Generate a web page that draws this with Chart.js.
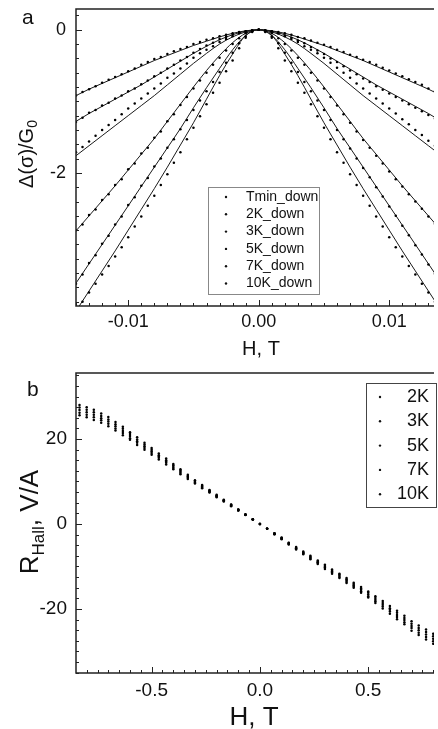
<!DOCTYPE html>
<html><head><meta charset="utf-8">
<script src="https://cdn.jsdelivr.net/npm/chart.js@4.4.1/dist/chart.umd.min.js"></script>
<style>
html,body{margin:0;padding:0;background:#fff;overflow:hidden}
#wa{position:absolute;left:0;top:0;width:438px;height:360px}
#wb{position:absolute;left:0;top:360px;width:438px;height:369px}
</style></head><body>
<div id="wa"><canvas id="ca" width="438" height="360"></canvas></div>
<div id="wb"><canvas id="cb" width="438" height="369"></canvas></div>
<script>
// ---------- Panel a data ----------
const fieldA = [-0.014,-0.0135,-0.013,-0.0125,-0.012,-0.0115,-0.011,-0.0105,-0.01,-0.0095,-0.009,-0.0085,-0.008,-0.0075,-0.007,-0.0065,-0.006,-0.0055,-0.005,-0.0045,-0.004,-0.0035,-0.003,-0.0025,-0.002,-0.0015,-0.001,-0.0005,0,0.0005,0.001,0.0015,0.002,0.0025,0.003,0.0035,0.004,0.0045,0.005,0.0055,0.006,0.0065,0.007,0.0075,0.008,0.0085,0.009,0.0095,0.01,0.0105,0.011,0.0115,0.012,0.0125,0.013,0.0135];
const seriesA = ["Tmin_down","2K_down","3K_down","5K_down","7K_down","10K_down"];
const dotTmin = [-3.93,-3.80,-3.67,-3.55,-3.42,-3.30,-3.17,-3.04,-2.90,-2.75,-2.61,-2.46,-2.32,-2.17,-2.02,-1.86,-1.71,-1.53,-1.37,-1.21,-1.04,-0.88,-0.74,-0.58,-0.43,-0.26,-0.11,-0.03,0,-0.03,-0.11,-0.26,-0.43,-0.58,-0.74,-0.88,-1.04,-1.21,-1.37,-1.53,-1.71,-1.86,-2.02,-2.17,-2.32,-2.46,-2.61,-2.75,-2.90,-3.04,-3.17,-3.30,-3.42,-3.55,-3.67,-3.80];
const dot2K = [-3.55,-3.42,-3.26,-3.15,-2.99,-2.88,-2.72,-2.61,-2.45,-2.34,-2.18,-2.07,-1.91,-1.80,-1.65,-1.53,-1.39,-1.26,-1.12,-0.99,-0.86,-0.73,-0.59,-0.46,-0.32,-0.19,-0.09,-0.02,0,-0.02,-0.09,-0.19,-0.32,-0.46,-0.59,-0.73,-0.86,-0.99,-1.12,-1.26,-1.40,-1.53,-1.66,-1.80,-1.93,-2.06,-2.20,-2.33,-2.47,-2.60,-2.74,-2.87,-3.01,-3.14,-3.28,-3.41];
const dot3K = [-2.80,-2.72,-2.59,-2.51,-2.38,-2.30,-2.17,-2.09,-1.95,-1.87,-1.73,-1.65,-1.51,-1.42,-1.28,-1.18,-1.05,-0.94,-0.82,-0.71,-0.60,-0.49,-0.39,-0.29,-0.20,-0.12,-0.05,-0.01,0,-0.01,-0.05,-0.12,-0.20,-0.29,-0.39,-0.49,-0.60,-0.71,-0.82,-0.94,-1.06,-1.18,-1.30,-1.42,-1.54,-1.65,-1.76,-1.87,-1.98,-2.09,-2.19,-2.30,-2.40,-2.50,-2.61,-2.71];
const dot5K = [-1.71,-1.64,-1.56,-1.48,-1.40,-1.33,-1.26,-1.18,-1.10,-1.03,-0.96,-0.89,-0.82,-0.75,-0.67,-0.61,-0.54,-0.47,-0.39,-0.33,-0.28,-0.23,-0.17,-0.13,-0.09,-0.05,-0.03,-0.01,0,-0.01,-0.03,-0.05,-0.09,-0.13,-0.17,-0.23,-0.28,-0.33,-0.39,-0.46,-0.53,-0.60,-0.67,-0.75,-0.82,-0.89,-0.96,-1.03,-1.10,-1.17,-1.25,-1.32,-1.40,-1.47,-1.55,-1.62];
const dot7K = [-1.29,-1.23,-1.16,-1.12,-1.06,-1.02,-0.96,-0.92,-0.86,-0.82,-0.76,-0.71,-0.65,-0.60,-0.54,-0.49,-0.43,-0.38,-0.32,-0.27,-0.22,-0.18,-0.13,-0.10,-0.07,-0.04,-0.02,-0.01,0,-0.01,-0.02,-0.05,-0.08,-0.11,-0.15,-0.19,-0.24,-0.29,-0.34,-0.40,-0.45,-0.51,-0.57,-0.62,-0.68,-0.73,-0.79,-0.84,-0.89,-0.94,-0.99,-1.04,-1.09,-1.14,-1.19,-1.24];
const dot10K = [-0.92,-0.87,-0.83,-0.79,-0.74,-0.70,-0.66,-0.62,-0.58,-0.54,-0.49,-0.45,-0.41,-0.38,-0.34,-0.30,-0.27,-0.24,-0.20,-0.17,-0.14,-0.12,-0.09,-0.07,-0.05,-0.03,-0.02,-0.01,0,-0.01,-0.02,-0.03,-0.05,-0.07,-0.10,-0.12,-0.15,-0.18,-0.21,-0.24,-0.28,-0.31,-0.35,-0.38,-0.42,-0.45,-0.49,-0.53,-0.57,-0.61,-0.65,-0.69,-0.73,-0.77,-0.82,-0.86];
// fitted curves
const fitField = [-0.014,-0.013,-0.012,-0.011,-0.01,-0.009,-0.008,-0.007,-0.006,-0.005,-0.004,-0.003,-0.002,-0.001,0,0.001,0.002,0.003,0.004,0.005,0.006,0.007,0.008,0.009,0.01,0.011,0.012,0.013,0.014];
const fitTmin = [-3.93,-3.65,-3.37,-3.09,-2.80,-2.51,-2.22,-1.92,-1.61,-1.30,-0.97,-0.64,-0.34,-0.08,0,-0.08,-0.34,-0.64,-0.97,-1.30,-1.61,-1.92,-2.22,-2.51,-2.80,-3.09,-3.37,-3.65,-3.93];
const fit2K = [-3.54,-3.27,-3.00,-2.73,-2.46,-2.19,-1.92,-1.65,-1.38,-1.09,-0.81,-0.54,-0.28,-0.08,0,-0.08,-0.28,-0.54,-0.81,-1.09,-1.38,-1.65,-1.92,-2.19,-2.46,-2.73,-3.00,-3.27,-3.54];
const fit3K = [-2.81,-2.60,-2.39,-2.18,-1.96,-1.74,-1.52,-1.28,-1.04,-0.80,-0.57,-0.36,-0.18,-0.05,0,-0.05,-0.18,-0.36,-0.57,-0.80,-1.04,-1.28,-1.52,-1.74,-1.96,-2.18,-2.39,-2.60,-2.81];
const fit5K = [-1.76,-1.62,-1.48,-1.34,-1.20,-1.06,-0.92,-0.77,-0.62,-0.47,-0.33,-0.20,-0.10,-0.03,0,-0.03,-0.10,-0.20,-0.33,-0.47,-0.62,-0.77,-0.92,-1.06,-1.20,-1.34,-1.48,-1.62,-1.76];
const fit7K = [-1.28,-1.17,-1.07,-0.97,-0.87,-0.77,-0.66,-0.55,-0.44,-0.33,-0.23,-0.14,-0.07,-0.02,0,-0.02,-0.07,-0.14,-0.23,-0.33,-0.44,-0.55,-0.66,-0.77,-0.87,-0.97,-1.07,-1.17,-1.28];
const fit10K = [-0.92,-0.83,-0.75,-0.67,-0.59,-0.51,-0.43,-0.36,-0.29,-0.22,-0.16,-0.10,-0.05,-0.015,0,-0.015,-0.05,-0.10,-0.16,-0.22,-0.29,-0.36,-0.43,-0.51,-0.59,-0.67,-0.75,-0.83,-0.92];
const xTicksA = [-0.01, 0, 0.01];
const xTickLabelsA = ["-0.01", "0.00", "0.01"];
const yTicksA = [-2, 0];
const yTickLabelsA = ["-2", "0"];

// ---------- Panel b data ----------
const fieldB = [-0.833,-0.800,-0.767,-0.733,-0.700,-0.667,-0.633,-0.600,-0.567,-0.533,-0.500,-0.467,-0.433,-0.400,-0.367,-0.333,-0.300,-0.267,-0.233,-0.200,-0.167,-0.133,-0.100,-0.067,-0.033,0,0.033,0.067,0.100,0.133,0.167,0.200,0.233,0.267,0.300,0.333,0.367,0.400,0.433,0.467,0.500,0.533,0.567,0.600,0.633,0.667,0.700,0.733,0.767,0.800];
const seriesB = ["2K","3K","5K","7K","10K"];
const hall2K = [28.0,27.5,26.9,26.0,25.2,24.0,22.9,21.6,20.4,19.1,17.9,16.6,15.4,14.1,12.9,11.6,10.3,9.2,8.0,6.9,5.7,4.6,3.4,2.3,1.1,0.0,-1.1,-2.4,-3.6,-4.8,-6.0,-7.1,-8.3,-9.4,-10.6,-11.7,-12.7,-13.9,-15.0,-16.2,-17.3,-18.6,-19.9,-21.1,-22.4,-23.6,-25.1,-26.1,-27.2,-28.2];
const hall3K = [27.4,26.9,26.3,25.4,24.6,23.5,22.4,21.2,19.9,18.7,17.5,16.2,15.0,13.8,12.6,11.3,10.1,9.0,7.9,6.7,5.6,4.5,3.4,2.2,1.1,0.0,-1.1,-2.4,-3.5,-4.7,-5.8,-6.9,-8.1,-9.2,-10.3,-11.4,-12.5,-13.6,-14.7,-15.8,-17.0,-18.2,-19.4,-20.6,-21.9,-23.1,-24.5,-25.6,-26.6,-27.6];
const hall5K = [26.8,26.3,25.7,24.9,24.1,23.0,21.9,20.7,19.5,18.3,17.1,15.9,14.7,13.5,12.3,11.1,9.9,8.8,7.7,6.6,5.5,4.4,3.3,2.2,1.1,0.0,-1.1,-2.3,-3.4,-4.6,-5.7,-6.8,-7.9,-9.0,-10.1,-11.2,-12.2,-13.3,-14.4,-15.5,-16.6,-17.8,-19.0,-20.2,-21.4,-22.6,-24.0,-25.0,-26.0,-27.0];
const hall7K = [26.2,25.7,25.1,24.4,23.6,22.5,21.4,20.2,19.1,17.9,16.7,15.6,14.4,13.2,12.0,10.9,9.7,8.6,7.5,6.5,5.4,4.3,3.2,2.2,1.1,0.0,-1.1,-2.2,-3.3,-4.5,-5.6,-6.7,-7.7,-8.8,-9.9,-11.0,-11.9,-13.0,-14.1,-15.2,-16.2,-17.4,-18.6,-19.8,-20.9,-22.1,-23.5,-24.5,-25.4,-26.4];
const hall10K = [25.6,25.1,24.5,23.8,23.0,22.0,20.9,19.8,18.6,17.5,16.3,15.2,14.0,12.9,11.7,10.6,9.5,8.4,7.4,6.3,5.3,4.2,3.2,2.1,1.0,0.0,-1.1,-2.2,-3.2,-4.4,-5.4,-6.5,-7.5,-8.6,-9.6,-10.7,-11.7,-12.7,-13.8,-14.8,-15.9,-17.0,-18.1,-19.3,-20.4,-21.6,-22.9,-23.9,-24.8,-25.8];
const xTicksB = [-0.5, 0, 0.5];
const xTickLabelsB = ["-0.5", "0.0", "0.5"];
const yTicksB = [-20, 0, 20];
const yTickLabelsB = ["-20", "0", "20"];

// ---------- helpers ----------
const pts = (xs, ys) => xs.map((x, i) => ({x, y: ys[i]}));
const FONT = '"Liberation Sans", Arial, sans-serif';
const INK = '#111';

const framePlugin = {
  id: 'frame',
  afterDraw(chart, args, o) {
    const {ctx, chartArea: a, scales: {x, y}} = chart;
    ctx.save();
    ctx.strokeStyle = '#222';
    ctx.lineWidth = 1;
    ctx.beginPath();
    const xs = o.xMinor, ys = o.yMinor;
    for (let k = Math.ceil(x.min / xs - 1e-9); k * xs <= x.max + 1e-12; k++) {
      const px = Math.round(x.getPixelForValue(k * xs)) + 0.5;
      const len = (k % o.xRatio === 0) ? o.major : o.minor;
      ctx.moveTo(px, a.bottom); ctx.lineTo(px, a.bottom - len);
    }
    for (let k = Math.ceil(y.min / ys - 1e-9); k * ys <= y.max + 1e-12; k++) {
      const py = Math.round(y.getPixelForValue(k * ys)) + 0.5;
      const len = (k % o.yRatio === 0) ? o.major : o.minor;
      ctx.moveTo(a.left, py); ctx.lineTo(a.left + len, py);
    }
    ctx.stroke();
    ctx.lineWidth = 1.5;
    ctx.beginPath();
    ctx.moveTo(a.right, a.top); ctx.lineTo(a.left, a.top);
    ctx.lineTo(a.left, a.bottom); ctx.lineTo(a.right, a.bottom);
    ctx.stroke();
    ctx.restore();
  }
};

const legendPlugin = {
  id: 'boxLegend',
  afterDraw(chart, args, o) {
    const ctx = chart.ctx;
    const items = chart.data.datasets.filter(d => d.inLegend);
    ctx.save();
    ctx.strokeStyle = o.border; ctx.lineWidth = 1;
    ctx.strokeRect(o.x + 0.5, o.y + 0.5, o.w, o.h);
    ctx.font = o.font; ctx.fillStyle = INK; ctx.textBaseline = 'middle'; ctx.textAlign = o.align;
    items.forEach((d, i) => {
      const yy = o.y + o.first + i * o.step;
      ctx.beginPath(); ctx.arc(o.mx, yy, 1.2, 0, Math.PI * 2); ctx.fill();
      ctx.fillText(d.label, o.tx, yy);
    });
    ctx.restore();
  }
};

function drawRich(ctx, parts) {
  let w = 0;
  parts.forEach(p => { ctx.font = p.font; p.w = ctx.measureText(p.t).width; w += p.w; });
  let cx = -w / 2;
  parts.forEach(p => { ctx.font = p.font; ctx.fillText(p.t, cx, p.dy || 0); cx += p.w; });
}

const titlesPlugin = {
  id: 'titles',
  afterDraw(chart, args, o) {
    const ctx = chart.ctx;
    ctx.save();
    ctx.fillStyle = INK; ctx.textBaseline = 'alphabetic'; ctx.textAlign = 'left';
    ctx.font = o.letterFont; ctx.fillText(o.letter, o.lx, o.ly);
    ctx.save(); ctx.translate(o.xtx, o.xty); drawRich(ctx, o.xParts); ctx.restore();
    ctx.save(); ctx.translate(o.ytx, o.yty); ctx.rotate(-Math.PI / 2); drawRich(ctx, o.yParts); ctx.restore();
    ctx.restore();
  }
};

function fitDs(label, ys) {
  return {type: 'line', label, data: pts(fitField, ys), borderColor: '#1a1a1a', borderWidth: 1,
    pointRadius: 0, cubicInterpolationMode: 'monotone', fill: false, clip: 0, order: 2};
}
function dotDs(label, xs, ys) {
  return {type: 'scatter', label, inLegend: true, data: pts(xs, ys), backgroundColor: '#000',
    borderWidth: 0, pointRadius: 1.25, pointStyle: 'circle', clip: 0, order: 1};
}

function axisX(min, max, ticks, labels, h, size, pad) {
  return {type: 'linear', min, max,
    grid: {display: false, drawTicks: false}, border: {display: false},
    ticks: {color: INK, font: {family: FONT, size}, padding: pad, autoSkip: false, maxRotation: 0,
      callback: v => { const i = ticks.findIndex(t => Math.abs(t - v) < 1e-9); return i < 0 ? '' : labels[i]; }},
    afterBuildTicks: s => { s.ticks = ticks.map(v => ({value: v})); },
    afterFit: s => { s.height = h; s.paddingLeft = 0; s.paddingRight = 0; s.paddingTop = 0; s.paddingBottom = 0; }};
}
function axisY(min, max, ticks, labels, w, size, pad) {
  return {type: 'linear', min, max, position: 'left',
    grid: {display: false, drawTicks: false}, border: {display: false},
    ticks: {color: INK, font: {family: FONT, size}, padding: pad, autoSkip: false,
      callback: v => { const i = ticks.findIndex(t => Math.abs(t - v) < 1e-9); return i < 0 ? '' : labels[i]; }},
    afterBuildTicks: s => { s.ticks = ticks.map(v => ({value: v})); },
    afterFit: s => { s.width = w; s.paddingTop = 0; s.paddingBottom = 0; s.paddingLeft = 0; s.paddingRight = 0; }};
}

// ---------- Chart a ----------
const fitsA = [fitTmin, fit2K, fit3K, fit5K, fit7K, fit10K];
const dotsA = [dotTmin, dot2K, dot3K, dot5K, dot7K, dot10K];
new Chart(document.getElementById('ca'), {
  data: {datasets: [
    ...dotsA.map((d, i) => dotDs(seriesA[i], fieldA, d)),
    ...fitsA.map((f, i) => fitDs('fit ' + seriesA[i], f))
  ]},
  options: {
    responsive: false, animation: false, devicePixelRatio: 1,
    layout: {padding: {top: 9, left: 0, right: 0, bottom: 0}},
    scales: {
      x: axisX(-0.014, 0.01343, xTicksA, xTickLabelsA, 54, 18, 5),
      y: axisY(-3.86, 0.29, yTicksA, yTickLabelsA, 76, 18, 10)
    },
    plugins: {
      legend: {display: false}, tooltip: {enabled: false},
      frame: {xMinor: 0.001, xRatio: 10, yMinor: 0.2, yRatio: 10, major: 6, minor: 3},
      boxLegend: {x: 208, y: 187, w: 111, h: 107, first: 10, step: 17.3, mx: 226, tx: 246,
        align: 'left', font: '14px ' + FONT, border: '#888'},
      titles: {letter: 'a', letterFont: '21px ' + FONT, lx: 22, ly: 24,
        xtx: 261, xty: 355, xParts: [{t: 'H, T', font: '20px ' + FONT}],
        ytx: 33, yty: 154, yParts: [{t: 'Δ(σ)/G', font: '20px ' + FONT}, {t: '0', font: '14px ' + FONT, dy: 4}]}
    }
  },
  plugins: [framePlugin, legendPlugin, titlesPlugin]
});

// ---------- Chart b ----------
const hallB = [hall2K, hall3K, hall5K, hall7K, hall10K];
new Chart(document.getElementById('cb'), {
  data: {datasets: hallB.map((d, i) => dotDs(seriesB[i], fieldB, d))},
  options: {
    responsive: false, animation: false, devicePixelRatio: 1,
    layout: {padding: {top: 13, left: 0, right: 0, bottom: 0}},
    scales: {
      x: axisX(-0.8493, 0.8037, xTicksB, xTickLabelsB, 56, 19, 6),
      y: axisY(-35.06, 35.53, yTicksB, yTickLabelsB, 76, 19, 9)
    },
    plugins: {
      legend: {display: false}, tooltip: {enabled: false},
      frame: {xMinor: 0.05, xRatio: 10, yMinor: 2.5, yRatio: 8, major: 6, minor: 3},
      boxLegend: {x: 366, y: 23, w: 70, h: 124, first: 14, step: 24.3, mx: 380, tx: 429,
        align: 'right', font: '18px ' + FONT, border: '#444'},
      titles: {letter: 'b', letterFont: '21px ' + FONT, lx: 27, ly: 36,
        xtx: 254, xty: 365, xParts: [{t: 'H, T', font: '26px ' + FONT}],
        ytx: 38, yty: 162, yParts: [{t: 'R', font: '26px ' + FONT}, {t: 'Hall', font: '17px ' + FONT, dy: 6}, {t: ', V/A', font: '26px ' + FONT}]}
    }
  },
  plugins: [framePlugin, legendPlugin, titlesPlugin]
});
</script>
</body></html>
